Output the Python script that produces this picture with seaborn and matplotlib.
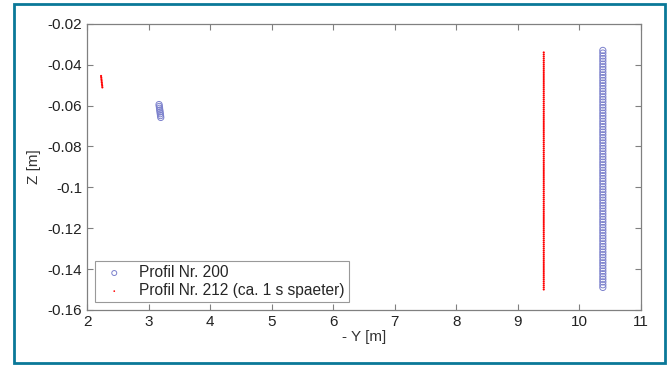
import pandas as pd
import matplotlib.pyplot as plt
import seaborn as sns
from matplotlib.patches import Rectangle

# Profil Nr. 200: small cluster near Y=3.2 and a long column near Y=10.4
p200_cluster_y = [3.170, 3.174, 3.178, 3.182, 3.186, 3.190, 3.194, 3.198]
p200_cluster_z_mm = [-59.5, -60.4, -61.3, -62.2, -63.1, -64.0, -64.9, -65.8]
p200_col_y = 10.38
p200_col_z_mm = [
    -33.0, -34.3, -35.7, -37.0, -38.3, -39.7, -41.0, -42.3, -43.7, -45.0,
    -46.3, -47.7, -49.0, -50.3, -51.7, -53.0, -54.3, -55.7, -57.0, -58.3,
    -59.7, -61.0, -62.3, -63.7, -65.0, -66.3, -67.7, -69.0, -70.3, -71.7,
    -73.0, -74.3, -75.7, -77.0, -78.3, -79.7, -81.0, -82.3, -83.7, -85.0,
    -86.3, -87.7, -89.0, -90.3, -91.7, -93.0, -94.3, -95.7, -97.0, -98.3,
    -99.7, -101.0, -102.3, -103.7, -105.0, -106.3, -107.7, -109.0, -110.3, -111.7,
    -113.0, -114.3, -115.7, -117.0, -118.3, -119.7, -121.0, -122.3, -123.7, -125.0,
    -126.3, -127.7, -129.0, -130.3, -131.7, -133.0, -134.3, -135.7, -137.0, -138.3,
    -139.7, -141.0, -142.3, -143.7, -145.0, -146.3, -147.7, -149.0,
]

# Profil Nr. 212: short segment near Y=2.24 and a long column near Y=9.42
p212_seg_y = [2.228, 2.231, 2.234, 2.237, 2.240, 2.243, 2.246, 2.249]
p212_seg_z_mm = [-45.5, -46.3, -47.1, -47.9, -48.7, -49.5, -50.3, -51.1]
p212_col_y = 9.42
p212_col_z_mm = [
    -34, -35, -36, -37, -38, -39, -40, -41, -42, -43, -44, -45, -46, -47, -48,
    -49, -50, -51, -52, -53, -54, -55, -56, -57, -58, -59, -60, -61, -62, -63,
    -64, -65, -66, -67, -68, -69, -70, -71, -72, -73, -74, -75, -76, -77, -78,
    -79, -80, -81, -82, -83, -84, -85, -86, -87, -88, -89, -90, -91, -92, -93,
    -94, -95, -96, -97, -98, -99, -100, -101, -102, -103, -104, -105, -106, -107,
    -108, -109, -110, -111, -112, -113, -114, -115, -116, -117, -118, -119, -120,
    -121, -122, -123, -124, -125, -126, -127, -128, -129, -130, -131, -132, -133,
    -134, -135, -136, -137, -138, -139, -140, -141, -142, -143, -144, -145, -146,
    -147, -148, -149, -150,
]

x_ticks = [2, 3, 4, 5, 6, 7, 8, 9, 10, 11]
y_ticks = [-0.16, -0.14, -0.12, -0.1, -0.08, -0.06, -0.04, -0.02]
y_tick_labels = ["-0.16", "-0.14", "-0.12", "-0.1", "-0.08", "-0.06", "-0.04", "-0.02"]

label_200 = "Profil Nr. 200"
label_212 = "Profil Nr. 212 (ca. 1 s spaeter)"

# build data frames (z in metres)
df200 = pd.DataFrame({
    "y": p200_cluster_y + [p200_col_y] * len(p200_col_z_mm),
    "z": [v / 1000 for v in p200_cluster_z_mm + p200_col_z_mm],
})
df212 = pd.DataFrame({
    "y": p212_seg_y + [p212_col_y] * len(p212_col_z_mm),
    "z": [v / 1000 for v in p212_seg_z_mm + p212_col_z_mm],
})

sns.set_style("ticks")
plt.rcParams["font.family"] = ["Liberation Sans", "DejaVu Sans"]

gray = "#808080"
fig = plt.figure(figsize=(6.71, 3.65), dpi=100)
ax = fig.add_axes([0.1297, 0.151, 0.8256, 0.7836])

sns.scatterplot(data=df200, x="y", y="z", ax=ax, marker="o", s=20,
                facecolors="none", edgecolor="#7b80cc", linewidth=0.7,
                label=label_200)
sns.scatterplot(data=df212, x="y", y="z", ax=ax, marker="o", s=2.4,
                color="#ff0000", edgecolor="none", label=label_212)

ax.set_xlim(2, 11)
ax.set_ylim(-0.16, -0.02)
ax.set_xticks(x_ticks)
ax.set_yticks(y_ticks)
ax.set_yticklabels(y_tick_labels)
ax.set_xlabel("- Y [m]", fontsize=11, color="#333333", labelpad=1)
ax.set_ylabel("Z [m]", fontsize=11, color="#333333", labelpad=5)

ax.tick_params(direction="in", length=4, width=0.8, color=gray,
               labelsize=11, labelcolor="#222222",
               top=True, right=True)
for sp in ax.spines.values():
    sp.set_visible(True)
    sp.set_color(gray)
    sp.set_linewidth(0.9)

leg = ax.legend(loc="lower left", fontsize=11.2, frameon=True, fancybox=False,
                borderaxespad=0.5, handletextpad=0.6, borderpad=0.25,
                labelspacing=0.2, markerscale=0.8)
leg.get_frame().set_edgecolor(gray)
leg.get_frame().set_linewidth(0.8)

# teal frame around the whole figure
fig.patches.append(Rectangle((0.0209, 0.0055), 0.970, 0.9836,
                             transform=fig.transFigure, fill=False,
                             edgecolor="#0a7898", linewidth=2.0))

fig.savefig("out.png", dpi=100)
